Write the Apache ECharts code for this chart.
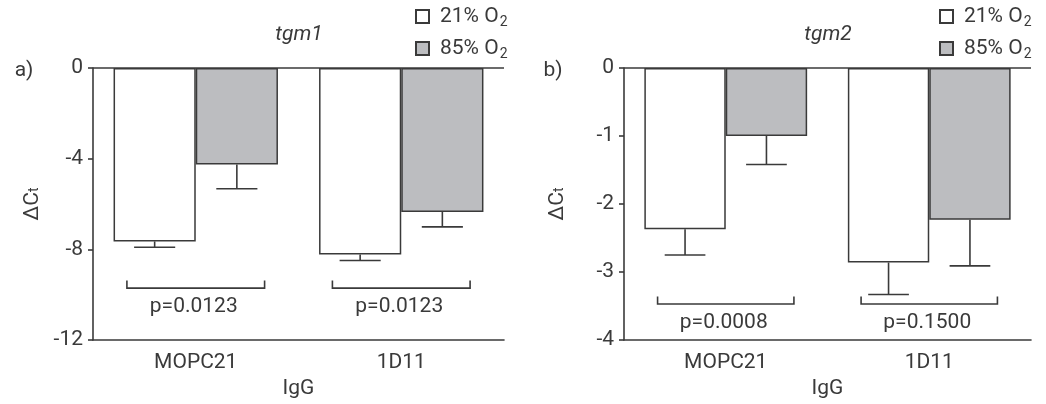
<!DOCTYPE html>
<html>
<head>
<meta charset="utf-8">
<title>tgm1 / tgm2</title>
<script src="https://cdn.jsdelivr.net/npm/echarts@6/dist/echarts.min.js"></script>
<style>
    html, body { margin: 0; padding: 0; background: #fff; }
    #main { width: 1046px; height: 404px; }
</style>
</head>
<body>
<div id="main"></div>
<script type="text/javascript">
// data
var categories = ['MOPC21', '1D11'];
var seriesNames = ['21% O2', '85% O2'];

var tgm1Low = [-7.65, -8.23];
var tgm1LowErr = [0.26, 0.26];
var tgm1High = [-4.26, -6.35];
var tgm1HighErr = [1.07, 0.66];
var tgm1P = ['p=0.0123', 'p=0.0123'];

var tgm2Low = [-2.37, -2.86];
var tgm2LowErr = [0.38, 0.47];
var tgm2High = [-1.0, -2.23];
var tgm2HighErr = [0.42, 0.68];
var tgm2P = ['p=0.0008', 'p=0.1500'];

var ink = '#3a3a3a';
var font = 'Roboto';
var fs = 21;

var myChart = echarts.init(document.getElementById('main'));

// error bars: [category, value, err, side]  side -1 = left bar, 1 = right bar
function errData(low, lowErr, high, highErr) {
    var out = [];
    for (var i = 0; i < categories.length; i++) {
        out.push([i, low[i], lowErr[i], -1]);
        out.push([i, high[i], highErr[i], 1]);
    }
    return out;
}

function renderErr(params, api) {
    var band = api.size([1, 0])[0];
    var c = api.coord([api.value(0), api.value(1)]);
    var end = api.coord([api.value(0), api.value(1) - api.value(2)]);
    var x = c[0] + api.value(3) * band * 0.2;
    var half = band * 0.1;
    var style = { stroke: ink, lineWidth: 1.6 };
    return {
        type: 'group',
        children: [
            { type: 'line', shape: { x1: x, y1: c[1], x2: x, y2: end[1] }, style: style },
            { type: 'line', shape: { x1: x - half, y1: end[1], x2: x + half, y2: end[1] }, style: style }
        ]
    };
}

// significance brackets below each pair
function bracketRenderer(labels, level, tickTop, textLevel) {
    return function (params, api) {
        var band = api.size([1, 0])[0];
        var c = api.coord([api.value(0), level]);
        var top = api.coord([api.value(0), tickTop])[1];
        var t = api.coord([api.value(0), textLevel]);
        var x1 = c[0] - band * 0.335, x2 = c[0] + band * 0.335;
        var style = { stroke: ink, lineWidth: 1.6, fill: null };
        return {
            type: 'group',
            children: [
                { type: 'polyline', shape: { points: [[x1, top], [x1, c[1]], [x2, c[1]], [x2, top]] }, style: style },
                {
                    type: 'text', x: t[0] - 2, y: t[1],
                    style: {
                        text: labels[params.dataIndex],
                        fill: ink, font: fs + 'px ' + font, align: 'center', verticalAlign: 'middle'
                    }
                }
            ]
        };
    };
}

function barSeries(name, data, fill, idx) {
    return {
        name: name,
        type: 'bar',
        xAxisIndex: idx,
        yAxisIndex: idx,
        data: data,
        barGap: '0%',
        barCategoryGap: '20%',
        itemStyle: { color: fill, borderColor: ink, borderWidth: 1.5 }
    };
}

var zeroLine = {
    silent: true,
    symbol: 'none',
    label: { show: false },
    lineStyle: { color: ink, width: 1.6, type: 'solid' },
    data: [{ yAxis: 0 }]
};

var axisLabelStyle = { color: ink, fontFamily: font, fontSize: fs };

function legendFor(left) {
    return {
        orient: 'vertical',
        left: left,
        top: 1,
        itemWidth: 13,
        itemHeight: 13,
        itemGap: 9,
        icon: 'rect',
        selectedMode: false,
        data: seriesNames,
        formatter: function (name) {
            return '{a|' + name.slice(0, -1) + '}{s|' + name.slice(-1) + '}';
        },
        textStyle: {
            color: ink,
            fontFamily: font,
            padding: [0, 0, 0, 6],
            rich: {
                a: { fontSize: fs, fontFamily: font, color: ink },
                s: { fontSize: 14, fontFamily: font, color: ink, padding: [11, 0, 0, 1] }
            }
        }
    };
}

function xAxisFor(idx) {
    return {
        type: 'category',
        gridIndex: idx,
        data: categories,
        name: 'IgG',
        nameLocation: 'middle',
        nameGap: 38,
        nameTextStyle: { color: ink, fontFamily: font, fontSize: fs },
        axisLine: { onZero: false, lineStyle: { color: ink, width: 1.6 } },
        axisTick: { alignWithLabel: true, length: 7, lineStyle: { color: ink, width: 1.6 } },
        axisLabel: Object.assign({ margin: 12 }, axisLabelStyle),
        splitLine: { show: false }
    };
}

function yAxisFor(idx, min, interval, nameGap) {
    return {
        type: 'value',
        gridIndex: idx,
        min: min,
        max: 0,
        interval: interval,
        name: '{a|ΔC}{t|t}',
        nameLocation: 'middle',
        nameGap: nameGap,
        nameTextStyle: {
            rich: {
                a: { fontSize: fs, fontFamily: font, color: ink },
                t: { fontSize: 14, fontFamily: font, color: ink, padding: [4, 0, 0, 0] }
            }
        },
        axisLine: { show: true, lineStyle: { color: ink, width: 1.6 } },
        axisTick: { show: true, length: 5, lineStyle: { color: ink, width: 1.6 } },
        axisLabel: Object.assign({ margin: 10 }, axisLabelStyle),
        splitLine: { show: false }
    };
}

option = {
    animation: false,
    backgroundColor: '#fff',
    grid: [
        { left: 93, right: 542, top: 68, bottom: 62 },
        { left: 624, right: 15, top: 68, bottom: 62 }
    ],
    legend: [legendFor(410), legendFor(934)],
    xAxis: [xAxisFor(0), xAxisFor(1)],
    yAxis: [yAxisFor(0, -12, 4, 50), yAxisFor(1, -4, 1, 56)],
    graphic: [
        { type: 'text', x: 24, y: 71, style: { text: 'a)', fill: ink, font: fs + 'px ' + font, align: 'center', verticalAlign: 'middle' } },
        { type: 'text', x: 553, y: 71, style: { text: 'b)', fill: ink, font: fs + 'px ' + font, align: 'center', verticalAlign: 'middle' } },
        { type: 'text', x: 299, y: 35, style: { text: 'tgm1', fill: ink, font: 'italic ' + fs + 'px ' + font, align: 'center', verticalAlign: 'middle' } },
        { type: 'text', x: 828, y: 35, style: { text: 'tgm2', fill: ink, font: 'italic ' + fs + 'px ' + font, align: 'center', verticalAlign: 'middle' } }
    ],
    series: [
        Object.assign(barSeries(seriesNames[0], tgm1Low, '#ffffff', 0), { markLine: zeroLine }),
        barSeries(seriesNames[1], tgm1High, '#bcbdc0', 0),
        Object.assign(barSeries(seriesNames[0], tgm2Low, '#ffffff', 1), { markLine: zeroLine }),
        barSeries(seriesNames[1], tgm2High, '#bcbdc0', 1),
        {
            type: 'custom', xAxisIndex: 0, yAxisIndex: 0, silent: true, z: 3,
            renderItem: renderErr,
            data: errData(tgm1Low, tgm1LowErr, tgm1High, tgm1HighErr)
        },
        {
            type: 'custom', xAxisIndex: 1, yAxisIndex: 1, silent: true, z: 3,
            renderItem: renderErr,
            data: errData(tgm2Low, tgm2LowErr, tgm2High, tgm2HighErr)
        },
        {
            type: 'custom', xAxisIndex: 0, yAxisIndex: 0, silent: true,
            renderItem: bracketRenderer(tgm1P, -9.71, -9.37, -10.52),
            data: [[0], [1]]
        },
        {
            type: 'custom', xAxisIndex: 1, yAxisIndex: 1, silent: true,
            renderItem: bracketRenderer(tgm2P, -3.47, -3.36, -3.74),
            data: [[0], [1]]
        }
    ]
};

myChart.setOption(option);
</script>
</body>
</html>
